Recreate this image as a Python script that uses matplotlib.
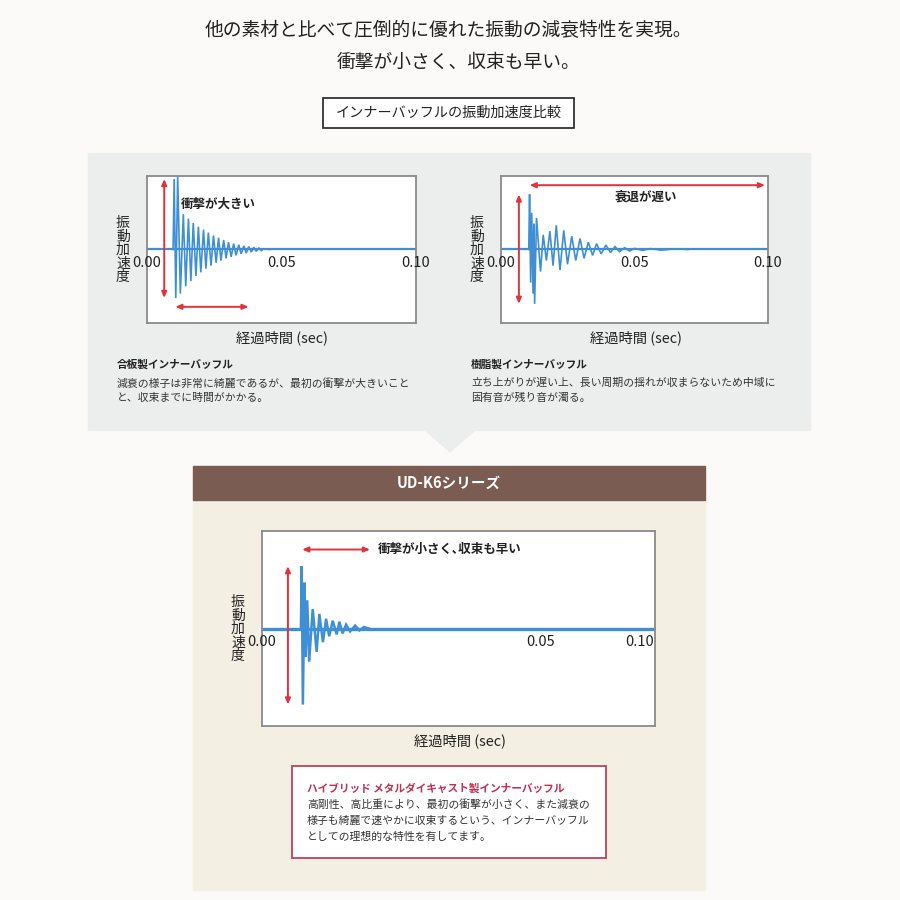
import matplotlib
matplotlib.use("Agg")
import matplotlib.pyplot as plt
from matplotlib.patches import Rectangle, Polygon

plt.rcParams['font.family'] = ['Noto Sans CJK JP', 'DejaVu Sans']

# --- data (time in sec, amplitude normalised to the axis half-height) ---
xticks = [0.00, 0.05, 0.10]
xtick_labels = ["0.00", "0.05", "0.10"]
# the lower chart prints its labels at uneven places
metal_tick_pos = [0.000, 0.071, 0.096]

# 合板製
plywood_t = [0.0097, 0.0101, 0.0107, 0.0114, 0.0124, 0.0135, 0.0144, 0.0154, 0.0163,
             0.0172, 0.0182, 0.0191, 0.0200, 0.0210, 0.0219, 0.0228, 0.0238, 0.0247,
             0.0257, 0.0266, 0.0275, 0.0285, 0.0294, 0.0303, 0.0313, 0.0322, 0.0331,
             0.0341, 0.0350, 0.0360, 0.0369, 0.0378, 0.0388, 0.0397, 0.0406, 0.0416,
             0.0425, 0.0434, 0.0457]
plywood_a = [0, 0.96, -0.66, 1.0, -0.60, 0.48, -0.50, 0.42, -0.43,
             0.36, -0.36, 0.31, -0.31, 0.27, -0.26, 0.23, -0.22, 0.19,
             -0.18, 0.16, -0.15, 0.13, -0.12, 0.10, -0.10, 0.08, -0.08,
             0.065, -0.06, 0.05, -0.05, 0.04, -0.035, 0.03, -0.025, 0.02,
             -0.015, 0.01, 0]

# 樹脂製
resin_t = [0.0104, 0.0107, 0.0111, 0.0115, 0.0120, 0.0123, 0.0126, 0.0133, 0.0148,
           0.0158, 0.0170, 0.0183, 0.0195, 0.0207, 0.0221, 0.0235, 0.0249, 0.0265,
           0.0280, 0.0296, 0.0311, 0.0327, 0.0343, 0.0358, 0.0375, 0.0393, 0.0410,
           0.0427, 0.0444, 0.0463, 0.0481, 0.0500, 0.0530, 0.0560, 0.0600, 0.0650, 0.0700]
resin_a = [0, 0.75, -0.45, 0.5, -0.6, 0.35, -0.74, 0.43, -0.30,
           0.20, -0.15, 0.25, -0.22, 0.33, -0.28, 0.26, -0.20, 0.18,
           -0.15, 0.15, -0.12, 0.10, -0.08, 0.08, -0.06, 0.06, -0.04,
           0.04, -0.03, 0.025, -0.02, 0.015, -0.012, 0.012, -0.01, 0.01, 0]

# ハイブリッド メタルダイキャスト製
metal_t = [0.0099, 0.0101, 0.0104, 0.0108, 0.0111, 0.0115, 0.0120, 0.0129, 0.0139,
           0.0146, 0.0155, 0.0163, 0.0171, 0.0180, 0.0190, 0.0197, 0.0205, 0.0214,
           0.0224, 0.0237, 0.0248, 0.0259, 0.0272]
metal_a = [0, 0.64, -0.78, 0.47, -0.29, 0.29, -0.34, 0.20, -0.24,
           0.15, -0.14, 0.10, -0.08, 0.08, -0.06, 0.07, -0.05, 0.04,
           -0.03, 0.03, -0.02, 0.015, 0]

BLUE = "#3f8fd6"
RED = "#e3323c"
DARK = "#222222"
W = H = 900

fig = plt.figure(figsize=(9, 9), dpi=100)
fig.patch.set_facecolor("#fbfaf8")


def px_rect(x0, y0, x1, y1):
    return [x0 / W, 1 - y1 / H, (x1 - x0) / W, (y1 - y0) / H]


def fx(x):
    return x / W


def fy(y):
    return 1 - y / H


# background panels
bg = fig.add_axes([0, 0, 1, 1], zorder=0)
bg.set_xlim(0, W)
bg.set_ylim(H, 0)
bg.axis("off")
bg.add_patch(Rectangle((88, 153), 722, 277, color="#eceeed"))
bg.add_patch(Polygon([(425, 430), (475, 430), (450, 452)], closed=True, color="#eceeed"))
bg.add_patch(Rectangle((193, 500), 512, 390, color="#f3efe3"))
bg.add_patch(Rectangle((193, 466), 512, 34, color="#7a5c52"))
bg.add_patch(Rectangle((323, 98), 251, 30, facecolor="white", edgecolor="#222222", lw=1.2))
bg.add_patch(Rectangle((292, 766), 314, 92, facecolor="white", edgecolor="#c2405e", lw=1.3))

# headings
fig.text(fx(448), fy(31), "他の素材と比べて圧倒的に優れた振動の減衰特性を実現。",
         ha="center", va="center", fontsize=13.5, color=DARK)
fig.text(fx(459), fy(62), "衝撃が小さく、収束も早い。",
         ha="center", va="center", fontsize=13.5, color=DARK)
fig.text(fx(449), fy(113), "インナーバッフルの振動加速度比較",
         ha="center", va="center", fontsize=10.2, color=DARK)
fig.text(fx(449), fy(483), "UD-K6シリーズ", ha="center", va="center",
         fontsize=10.5, color="white", fontweight="bold")


def wave_axes(rect, t, a, lw, tick_pos=xticks):
    ax = fig.add_axes(px_rect(*rect), zorder=2)
    ax.set_facecolor("white")
    ax.set_xlim(0, 0.10)
    ax.set_ylim(-1, 1)
    ax.set_xticks([])
    ax.set_yticks([])
    for s in ax.spines.values():
        s.set_color("#8a8a8a")
        s.set_linewidth(1.3)
    ax.axhline(0, color=BLUE, lw=lw)
    ax.plot(t, a, color=BLUE, lw=lw * 0.75, solid_joinstyle="miter")
    for x, lab in zip(tick_pos, xtick_labels):
        ax.annotate(lab, (x, 0), xytext=(0, -5), textcoords="offset points",
                    ha="center", va="top", fontsize=10.5, color=DARK,
                    annotation_clip=False)
    return ax


def red_arrow(ax, p0, p1):
    ax.annotate("", xy=p1, xytext=p0,
                arrowprops=dict(arrowstyle="<|-|>,head_length=0.35,head_width=0.15",
                                color=RED, lw=1.4, shrinkA=0, shrinkB=0))


def ylabel(x, y, size):
    fig.text(fx(x), fy(y), "振\n動\n加\n速\n度", ha="center", va="center",
             fontsize=size, color=DARK, linespacing=0.95)


# chart 1
ax1 = wave_axes((147, 176, 416, 323), plywood_t, plywood_a, 1.6)
red_arrow(ax1, (0.0064, max(plywood_a) * 0.96), (0.0064, min(plywood_a)))
red_arrow(ax1, (0.0105, -0.78), (0.0378, -0.78))
ax1.text(0.0127, 0.61, "衝撃が大きい", fontsize=9, fontweight="bold",
         color=DARK, va="center")
ylabel(123, 250, 10)
fig.text(fx(282), fy(338), "経過時間 (sec)", ha="center", va="center",
         fontsize=10.3, color=DARK)
fig.text(fx(117), fy(364), "合板製インナーバッフル", ha="left", va="center",
         fontsize=7.7, fontweight="bold", color=DARK)
fig.text(fx(117), fy(383), "減衰の様子は非常に綺麗であるが、最初の衝撃が大きいこと",
         ha="left", va="center", fontsize=7.8, color="#333333")
fig.text(fx(117), fy(398), "と、収束までに時間がかかる。",
         ha="left", va="center", fontsize=7.8, color="#333333")

# chart 2
ax2 = wave_axes((501, 176, 768, 323), resin_t, resin_a, 1.6)
red_arrow(ax2, (0.0067, max(resin_a)), (0.0067, min(resin_a)))
red_arrow(ax2, (0.0107, 0.875), (0.0989, 0.875))
ax2.text(0.0544, 0.72, "衰退が遅い", fontsize=9, fontweight="bold",
         color=DARK, ha="center", va="center")
ylabel(477, 250, 10)
fig.text(fx(636), fy(338), "経過時間 (sec)", ha="center", va="center",
         fontsize=10.3, color=DARK)
fig.text(fx(471), fy(364), "樹脂製インナーバッフル", ha="left", va="center",
         fontsize=7.7, fontweight="bold", color=DARK)
fig.text(fx(471), fy(383), "立ち上がりが遅い上、長い周期の揺れが収まらないため中域に",
         ha="left", va="center", fontsize=7.8, color="#333333")
fig.text(fx(471), fy(398), "固有音が残り音が濁る。",
         ha="left", va="center", fontsize=7.8, color="#333333")

# chart 3
ax3 = wave_axes((262, 531, 655, 726), metal_t, metal_a, 2.4, metal_tick_pos)
red_arrow(ax3, (0.0066, max(metal_a)), (0.0066, min(metal_a)))
red_arrow(ax3, (0.0102, 0.81), (0.0275, 0.81))
ax3.text(0.0295, 0.81, "衝撃が小さく､収束も早い", fontsize=9, fontweight="bold",
         color=DARK, va="center")
ylabel(238, 629, 10)
fig.text(fx(460), fy(741), "経過時間 (sec)", ha="center", va="center",
         fontsize=10.3, color=DARK)

fig.text(fx(307), fy(788), "ハイブリッド メタルダイキャスト製インナーバッフル",
         ha="left", va="center", fontsize=7.7, fontweight="bold", color="#c0304f")
body = ["高剛性、高比重により、最初の衝撃が小さく、また減衰の",
        "様子も綺麗で速やかに収束するという、インナーバッフル",
        "としての理想的な特性を有してます。"]
for i, line in enumerate(body):
    fig.text(fx(307), fy(805 + 16 * i), line, ha="left", va="center",
             fontsize=7.8, color="#333333")

fig.savefig("out.png", dpi=100, facecolor=fig.get_facecolor())
